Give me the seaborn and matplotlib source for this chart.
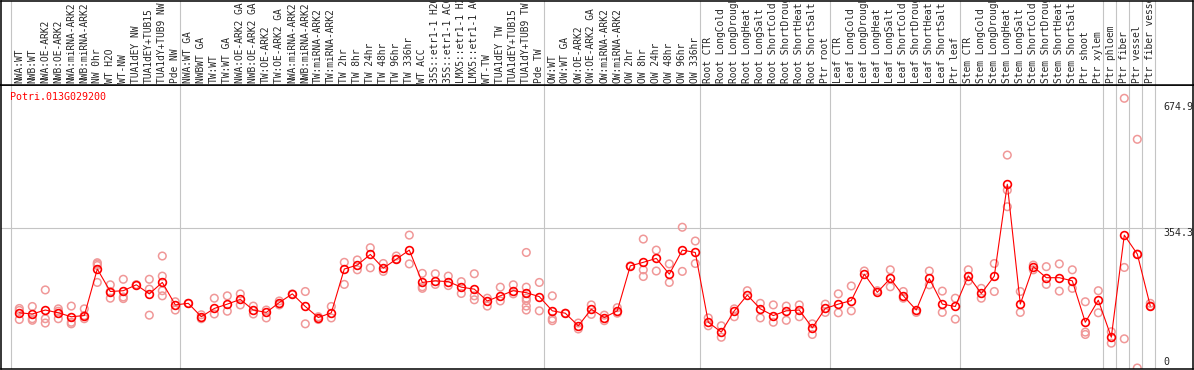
import numpy as np
import pandas as pd
import matplotlib
matplotlib.use("Agg")
import matplotlib.pyplot as plt
import seaborn as sns

gene = "Potri.013G029200"

labels = [
    "NWA:WT", "NWB:WT", "NWA:OE-ARK2", "NWB:OE-ARK2", "NWA:miRNA-ARK2", "NWB:miRNA-ARK2",
    "NW 0hr", "WT H2O", "WT-NW", "TUA1dEY NW", "TUA1dEY+TUB15", "TUA1dY+TUB9 NW", "Pde NW",
    "NWA:WT GA", "NWBWT GA", "TW:WT", "TW:WT GA", "NWA:OE-ARK2 GA", "NWB:OE-ARK2 GA",
    "TW:OE-ARK2", "TW:OE-ARK2 GA", "NWA:miRNA-ARK2", "NWB:miRNA-ARK2", "TW:miRNA-ARK2",
    "TW:miRNA-ARK2", "TW 2hr", "TW 8hr", "TW 24hr", "TW 48hr", "TW 96hr", "TW 336hr",
    "WT ACC", "35S::etr1-1 H2O", "35S::etr1-1 ACC", "LMX5::etr1-1 H2O", "LMX5::etr1-1 ACC",
    "WT-TW", "TUA1dEY TW", "TUA1dEY+TUB15", "TUA1dY+TUB9 TW", "Pde TW",
    "OW:WT", "OW:WT GA", "OW:OE-ARK2", "OW:OE-ARK2 GA", "OW:miRNA-ARK2", "OW:miRNA-ARK2",
    "OW 2hr", "OW 8hr", "OW 24hr", "OW 48hr", "OW 96hr", "OW 336hr",
    "Root CTR", "Root LongCold", "Root LongDrought", "Root LongHeat", "Root LongSalt",
    "Root ShortCold", "Root ShortDrought", "Root ShortHeat", "Root ShortSalt", "Ptr root",
    "Leaf CTR", "Leaf LongCold", "Leaf LongDrought", "Leaf LongHeat", "Leaf LongSalt",
    "Leaf ShortCold", "Leaf ShortDrought", "Leaf ShortHeat", "Leaf ShortSalt", "Ptr leaf",
    "Stem CTR", "Stem LongCold", "Stem LongDrought", "Stem LongHeat", "Stem LongSalt",
    "Stem ShortCold", "Stem ShortDrought", "Stem ShortHeat", "Stem ShortSalt", "Ptr shoot",
    "Ptr xylem", "Ptr phloem", "Ptr fiber", "Ptr vessel", "Ptr fiber vessel",
]

# number of samples in each block between the grey separators
group_sizes = [13, 28, 12, 10, 10, 11, 1, 1, 1, 1]

means = [
    140, 137, 147, 140, 130, 133, 251, 194, 196, 211, 188, 217, 160,
    164, 130, 151, 162, 174, 147, 141, 166, 188, 156, 128, 140, 251, 261, 288, 253, 276, 299,
    217, 221, 219, 205, 200, 170, 183, 196, 191, 181,
    145, 139, 107, 149, 128, 145, 259, 268, 278, 238, 299, 293,
    116, 91, 145, 185, 150, 133, 145, 147, 102, 151,
    162, 171, 238, 192, 227, 183, 147, 227, 162, 156,
    234, 189, 233, 466, 162, 257, 229, 229, 221, 116, 172,
    78, 337, 289, 157,
]

replicates = [
    [151, 146, 123], [156, 125, 121], [198, 125, 114], [150, 125, 144], [157, 116, 112],
    [150, 125, 133], [267, 264, 260, 217], [211, 177, 194], [225, 180, 176], [211, 211],
    [225, 200, 134], [284, 233, 196, 183], [168, 147],
    [164], [135, 125], [177, 137], [183, 144], [188, 160], [157, 137], [147, 127],
    [160, 170], [188], [194, 112], [123, 130], [156, 127], [268, 212], [274, 249],
    [305, 254], [265, 245], [284, 276], [337, 264],
    [240, 206, 202], [239, 212], [233, 209], [219, 189], [239, 183, 173], [177, 157],
    [205, 170], [211, 188], [293, 205, 177, 171, 157, 147], [217, 145],
    [183, 125, 120], [139], [114, 99], [160, 136], [134, 120], [153, 139], [259],
    [327, 249, 232], [299, 246], [264, 217], [357, 245], [322, 265],
    [127, 107], [107, 78], [130, 150], [196], [164, 127], [160, 116], [157, 121],
    [160, 130], [112, 85], [162, 141],
    [188, 140], [208, 145], [246], [196], [249, 206], [194, 177], [141], [246, 211],
    [195, 141], [177, 124],
    [249, 221], [202, 177], [265, 194], [540, 451, 409], [194, 141], [261, 249],
    [257, 212], [264, 195], [249, 202], [168, 91, 85], [196, 140],
    [92, 63], [684, 255, 74], [580, 0, 289], [164, 157],
]

scale_labels = ["674.9", "354.3", "0"]
grid_value = 354.3

sns.set_style("white")
plt.rcParams['font.family'] = ['DejaVu Sans Mono']

pos = np.arange(len(labels))
mean_df = pd.DataFrame({'pos': pos, 'value': means})
rep_df = pd.DataFrame([(i, v) for i, vals in enumerate(replicates) for v in vals],
                      columns=['pos', 'value'])

W, H = 1194, 370
fig = plt.figure(figsize=(W / 100, H / 100), dpi=100)
ax = fig.add_axes([1 / W, 1 / H, 1192 / W, 284 / H])
hdr = fig.add_axes([1 / W, 285 / H, 1192 / W, 84 / H])

# columns sit 13 px apart, first one at x=19 px
xlim = ((1 - 19.3) / 13, (1193 - 19.3) / 13)
for a in (ax, hdr):
    a.set_xlim(*xlim)
    a.set_xticks([])
    a.set_yticks([])
    for s in a.spines.values():
        s.set_color('black')
        s.set_linewidth(1.1)
ax.set_ylim(-2.54, 717.7)
hdr.set_ylim(0, 84)

bounds = np.concatenate([[0], np.cumsum(group_sizes)]) - 0.62
for b in bounds:
    ax.axvline(b, color='#c4c4c4', lw=0.8, zorder=0)
    hdr.axvline(b, color='#c4c4c4', lw=0.8, zorder=0)
ax.axhline(grid_value, color='#c4c4c4', lw=0.8, zorder=0)

sns.scatterplot(data=rep_df, x='pos', y='value', ax=ax, marker='o', s=30,
                facecolors='none', edgecolors='#f09898', linewidths=1.1, zorder=2)
sns.lineplot(data=mean_df, x='pos', y='value', ax=ax, color='red', lw=0.8,
             marker='o', markersize=5.6, markerfacecolor='none',
             markeredgecolor='red', markeredgewidth=1.2, zorder=3)
ax.set_xlabel('')
ax.set_ylabel('')

for i, lab in enumerate(labels):
    hdr.text(i, 2, lab, rotation=90, ha='center', va='bottom', fontsize=6.9, clip_on=True)

fig.text(10 / W, 1 - 97 / H, gene, color='red', fontsize=7.2, va='center', ha='left')
for lab, ypix in zip(scale_labels, [107, 233, 362]):
    fig.text(1163 / W, 1 - ypix / H, lab, fontsize=7.2, va='center', ha='left')

fig.savefig('out.png', dpi=100)
